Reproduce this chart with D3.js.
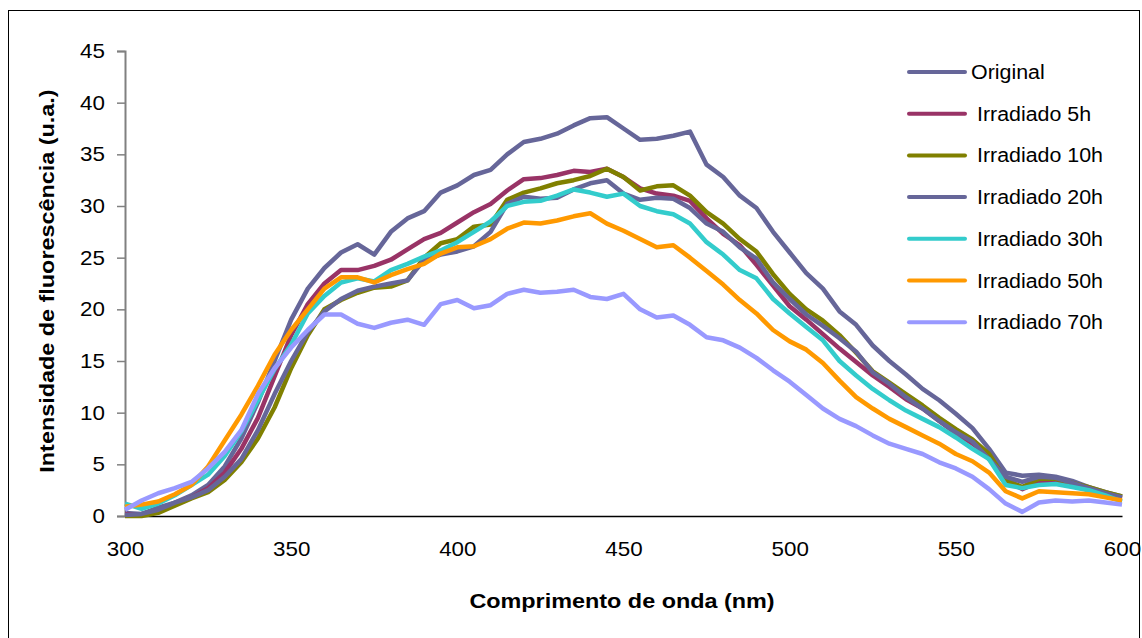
<!DOCTYPE html>
<html lang="pt">
  <head>
    <meta charset="UTF-8" />
    <title>Fluorescência</title>
    <style>
      body { margin: 0; background: #fff; }
      text { font-family: "Liberation Sans", Arial, sans-serif; fill: #000; }
    </style>
  </head>
  <body>
    <svg id="chart" width="1142" height="638"></svg>
    <script src="https://cdn.jsdelivr.net/npm/d3@7"></script>
    <script>
      // wavelength grid (nm), every 5 nm
      const wavelengths = d3.range(300, 601, 5);

      const original = [0.3,0.2,0.8,1.3,2.0,3.0,4.8,7.5,11,15,19,22,24,25.5,26.3,25.3,27.5,28.8,29.5,31.3,32,33,33.5,35,36.2,36.5,37,37.8,38.5,38.6,37.5,36.4,36.5,36.8,37.2,34,32.8,31,29.8,27.5,25.5,23.5,22,19.8,18.5,16.5,15,13.7,12.3,11.2,9.9,8.5,6.5,4.2,3.9,4,3.8,3.4,2.8,2.3,1.9];
      const irr5 = [0.2,0.1,0.5,1.2,1.8,2.7,4.2,6.5,9.5,13.5,17.5,20.5,22.5,23.8,23.8,24.2,24.8,25.8,26.8,27.4,28.4,29.4,30.2,31.5,32.6,32.7,33,33.4,33.3,33.6,32.8,31.7,31.2,31,30.5,28.8,27.3,26.2,24.3,22.3,20.3,19,17.6,16.2,14.9,13.6,12.5,11.3,10.4,9.2,8,7,5.8,3.5,2.6,3.3,3.2,3,2.5,2.1,1.7];
      const irr10 = [0,0,0.3,1.0,1.7,2.3,3.5,5.2,7.5,10.5,14.3,17.5,20,20.9,21.6,22.1,22.2,22.8,25,26.4,26.8,28,28.2,30.6,31.3,31.7,32.2,32.5,32.9,33.6,32.8,31.5,31.9,32,31,29.4,28.3,26.8,25.6,23.4,21.5,20,18.9,17.5,15.8,14,12.9,11.8,10.7,9.5,8.4,7.4,6,3.5,2.8,3.6,3.6,3.2,2.8,2.3,1.9];
      const irr20 = [0.1,0.2,0.6,1.3,1.8,2.5,3.8,5.5,8.3,11.8,15,17.8,19.8,21,21.8,22.2,22.5,22.8,24.8,25.3,25.6,26.1,27.5,30.2,30.9,30.7,30.8,31.6,32.2,32.5,31.2,30.6,30.8,30.7,29.8,28.3,27.5,26,24.9,22.6,21,19.5,18.4,17.2,15.9,13.9,12.8,11.5,10.4,9.2,8.1,7.2,5.5,3.8,3.3,3.8,3.7,3.2,2.7,2.2,1.8];
      const irr30 = [1.2,0.7,1.2,2.0,3.0,4.0,5.8,8.2,11.2,14.2,16.6,19.6,21.3,22.6,23,22.7,23.8,24.4,25.1,25.7,26.5,27.5,28.5,30,30.4,30.5,31,31.6,31.3,30.9,31.2,30,29.5,29.2,28.3,26.5,25.3,23.8,23,21,19.6,18.3,17,15,13.6,12.3,11.2,10.2,9.4,8.6,7.6,6.5,5.5,3,2.7,3.0,3.1,2.8,2.5,2.0,1.4];
      const irr50 = [0.9,1.1,1.4,2.1,3.0,4.8,7.3,9.8,12.6,15.6,18,20,22,23.1,23.1,22.6,23.3,23.9,24.4,25.4,26,26.1,26.8,27.8,28.4,28.3,28.6,29,29.3,28.3,27.6,26.8,26,26.2,25,23.7,22.4,20.9,19.6,18,16.9,16.1,14.8,13.1,11.5,10.4,9.4,8.6,7.8,7,6,5.3,4.2,2.4,1.7,2.4,2.3,2.2,2.1,1.8,1.5];
      const irr70 = [0.6,1.5,2.2,2.7,3.3,4.6,6.2,8.3,11.8,14.3,16.3,18,19.5,19.5,18.6,18.2,18.7,19,18.5,20.5,20.9,20.1,20.4,21.5,21.9,21.6,21.7,21.9,21.2,21,21.5,20,19.2,19.4,18.5,17.3,17,16.3,15.3,14.1,13,11.7,10.4,9.4,8.7,7.8,7,6.5,6,5.2,4.6,3.8,2.6,1.2,0.4,1.3,1.5,1.4,1.5,1.3,1.1];

      const seriesNames = ["Original", " Irradiado 5h", " Irradiado 10h", " Irradiado 20h", " Irradiado 30h", " Irradiado 50h", " Irradiado 70h"];
      const seriesValues = [original, irr5, irr10, irr20, irr30, irr50, irr70];
      const seriesColors = ["#666699", "#993366", "#808000", "#666699", "#33CCCC", "#FF9900", "#9999FF"];

      const xTicks = [300, 350, 400, 450, 500, 550, 600];
      const yTicks = [0, 5, 10, 15, 20, 25, 30, 35, 40, 45];

      const svg = d3.select("#chart");

      // outer chart border
      svg.append("rect")
        .attr("x", 8.5).attr("y", 10.5)
        .attr("width", 1131).attr("height", 640)
        .attr("fill", "none").attr("stroke", "#000").attr("stroke-width", 1);

      const x = d3.scaleLinear().domain([300, 600]).range([125, 1122]);
      const y = d3.scaleLinear().domain([0, 45]).range([516, 51]);

      // y axis (gray line, outside ticks)
      const yAxis = svg.append("g")
        .attr("transform", "translate(125,0)")
        .call(d3.axisLeft(y).tickValues(yTicks).tickSize(8).tickPadding(10));
      yAxis.select(".domain").attr("stroke", "#808080").attr("stroke-width", 2);
      yAxis.selectAll(".tick line").attr("stroke", "#808080").attr("stroke-width", 1.5);
      yAxis.selectAll("text")
        .style("font-size", "20px").attr("fill", "#000")
        .attr("transform", "scale(1.12,1)");

      // x axis (black line, no ticks)
      const xAxis = svg.append("g")
        .attr("transform", "translate(0,516)")
        .call(d3.axisBottom(x).tickValues(xTicks).tickSize(0).tickPadding(26));
      xAxis.select(".domain").attr("stroke", "#000").attr("stroke-width", 1.5);
      xAxis.selectAll("text")
        .style("font-size", "20px").attr("fill", "#000")
        .attr("transform", "scale(1.12,1)");

      // titles
      svg.append("text")
        .attr("transform", "translate(622,608) scale(1.17,1)")
        .attr("text-anchor", "middle")
        .style("font-size", "20px").style("font-weight", "bold")
        .text("Comprimento de onda (nm)");

      svg.append("text")
        .attr("transform", "translate(54,281) rotate(-90) scale(1.17,1)")
        .attr("text-anchor", "middle")
        .style("font-size", "20px").style("font-weight", "bold")
        .text("Intensidade de fluorescência (u.a.)");

      // series lines
      const line = d3.line()
        .x((d, i) => x(wavelengths[i]))
        .y(d => y(d));

      svg.append("g").selectAll("path")
        .data(seriesValues)
        .join("path")
        .attr("d", line)
        .attr("fill", "none")
        .attr("stroke", (d, i) => seriesColors[i])
        .attr("stroke-width", 4.5)
        .attr("stroke-linejoin", "round");

      // legend
      const legend = svg.append("g").selectAll("g")
        .data(seriesNames)
        .join("g")
        .attr("transform", (d, i) => `translate(909,${72 + i * 41.7})`);
      legend.append("line")
        .attr("x1", 0).attr("x2", 56)
        .attr("stroke", (d, i) => seriesColors[i])
        .attr("stroke-width", 4)
        .attr("stroke-linecap", "round");
      legend.append("text")
        .attr("transform", "translate(62,7) scale(1.07,1)")
        .style("font-size", "20px")
        .attr("xml:space", "preserve")
        .text(d => d);
    </script>
  </body>
</html>
